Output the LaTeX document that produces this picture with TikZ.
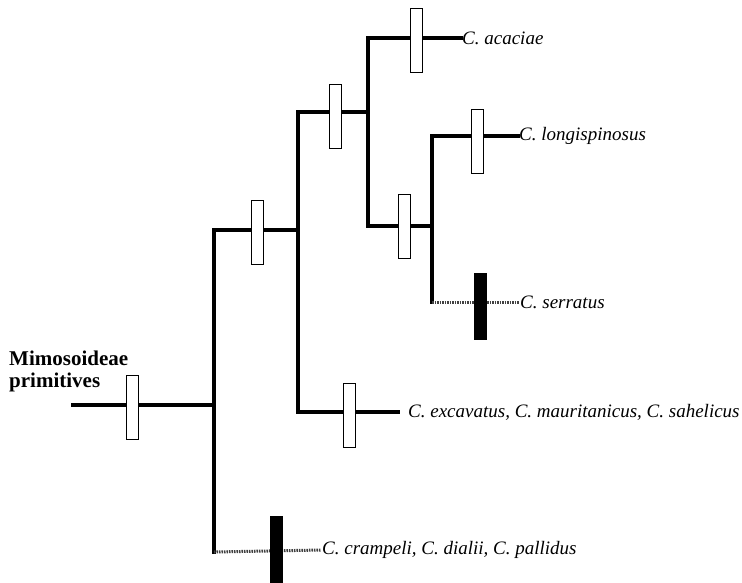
\documentclass[tikz,border=0pt]{standalone}
\usepackage{fontspec}
\setmainfont{Liberation Serif}
\usetikzlibrary{positioning}

\begin{document}
\begin{tikzpicture}[x=1pt, y=-1pt, font=\fontsize{19}{22}\selectfont,
        branch/.style={line width=3.2pt, line cap=rect},
        lost/.style={line width=3pt, gray!50!black, dash pattern=on 1.5pt off 1pt},
        gain/.style={draw, fill=white, line width=1pt, minimum width=12pt, minimum height=64pt, inner sep=0pt},
        loss/.style={fill=black, minimum width=13pt, minimum height=67pt, inner sep=0pt},
        taxon/.style={anchor=west, inner sep=1pt, font=\fontsize{19}{22}\selectfont\itshape}]
    \useasboundingbox (0,0) rectangle (742,582);

    \coordinate (root) at (73,405);
    \coordinate (n1) at (214,405);
    \coordinate (n1top) at (214,230);
    \coordinate (n1bot) at (214,552);
    \coordinate (n2) at (298,230);
    \coordinate (n2top) at (298,112);
    \coordinate (n2bot) at (298,412);
    \coordinate (n3) at (368,112);
    \coordinate (n3top) at (368,38);
    \coordinate (n3bot) at (368,226);
    \coordinate (n4) at (432,226);
    \coordinate (n4top) at (432,136);
    \coordinate (n4bot) at (432,302);
    \coordinate (excend) at (398,412);

    \node [taxon] (acaciae) at (461,38) {C. acaciae};
    \node [taxon] (longi) at (518,136) {C. longispinosus};
    \node [taxon] (serratus) at (519,302) {C. serratus};
    \node [taxon, inner sep=0pt] (excav) at (408,412) {C. excavatus, C. mauritanicus, C. sahelicus};
    \node [taxon] (crampeli) at (321,550) {C. crampeli, C. dialii, C. pallidus};
    \node [anchor=base west, align=left, inner sep=0pt, font=\fontsize{21}{22}\selectfont\bfseries] (mimo) at (9,387) {Mimosoideae\\primitives};

    % tree
    \draw [branch] (root) -- (n1);
    \draw [branch] (n1top) -- (n1bot);
    \draw [branch] (n1top) -- (n2);
    \draw [branch] (n2top) -- (n2bot);
    \draw [branch] (n2bot) -- (excend);
    \draw [branch] (n2top) -- (n3);
    \draw [branch] (n3top) -- (n3bot);
    \draw [branch] (n3top) -- (acaciae.west);
    \draw [branch] (n3bot) -- (n4);
    \draw [branch] (n4top) -- (n4bot);
    \draw [branch] (n4top) -- (longi.west);
    \draw [lost] (n4bot) -- (serratus.west);
    \draw [lost] (n1bot) -- (crampeli.west);

    % character changes
    \node [gain] (g1) at (132,407) {};
    \node [gain] (g2) at (257,232) {};
    \node [gain] (g3) at (349,415) {};
    \node [gain] (g4) at (335,116) {};
    \node [gain] (g5) at (416,40) {};
    \node [gain] (g6) at (404,226) {};
    \node [gain] (g7) at (477,141) {};
    \node [loss] (l1) at (480,306) {};
    \node [loss] (l2) at (276,549) {};
\end{tikzpicture}
\end{document}
